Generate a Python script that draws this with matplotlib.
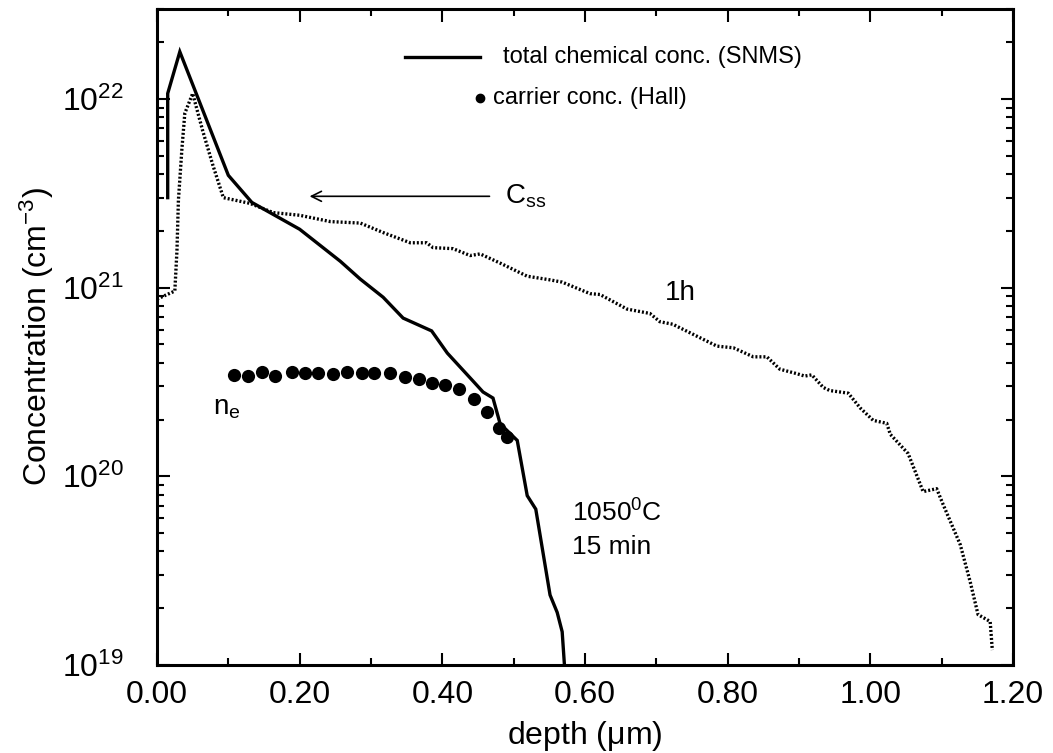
import math
import matplotlib
matplotlib.use("Agg")
import matplotlib.pyplot as plt
from matplotlib.ticker import FixedLocator, MultipleLocator, LogLocator, FuncFormatter, NullFormatter

plt.rcParams['font.family'] = ['Liberation Sans', 'DejaVu Sans']
plt.rcParams['mathtext.default'] = 'regular'

# total chemical concentration (SNMS), 1050 C 15 min
depth_15min = [0.015, 0.015, 0.032, 0.10, 0.133, 0.20, 0.257, 0.285, 0.317, 0.345,
               0.385, 0.407, 0.443, 0.457, 0.471, 0.481, 0.505, 0.519, 0.531,
               0.551, 0.561, 0.568, 0.572]
conc_15min = [3.0e21, 1.07e22, 1.78e22, 3.94e21, 2.83e21, 2.04e21, 1.38e21, 1.11e21,
              8.9e20, 6.9e20, 5.9e20, 4.5e20, 3.2e20, 2.8e20, 2.6e20, 1.9e20,
              1.55e20, 7.9e19, 6.7e19, 2.35e19, 1.9e19, 1.5e19, 9.0e18]

# total chemical concentration (SNMS), 1h
depth_1h = [0.0, 0.025, 0.028, 0.030, 0.035, 0.039, 0.050, 0.064, 0.078, 0.093,
            0.13, 0.163, 0.20, 0.243, 0.285, 0.317, 0.355, 0.378, 0.387, 0.415,
            0.439, 0.453, 0.481, 0.519, 0.551, 0.568, 0.607, 0.621, 0.659, 0.691,
            0.705, 0.723, 0.785, 0.808, 0.836, 0.855, 0.873, 0.897, 0.908, 0.918,
            0.934, 0.943, 0.969, 0.986, 1.004, 1.023, 1.028, 1.053, 1.074, 1.093,
            1.102, 1.126, 1.140, 1.151, 1.168, 1.171]
conc_1h = [8.7e20, 9.6e20, 1.58e21, 2.9e21, 5.5e21, 8.4e21, 1.07e22, 6.8e21, 4.5e21, 3.0e21,
           2.8e21, 2.5e21, 2.42e21, 2.24e21, 2.2e21, 1.96e21, 1.73e21, 1.73e21, 1.63e21, 1.61e21,
           1.48e21, 1.51e21, 1.35e21, 1.15e21, 1.1e21, 1.07e21, 9.3e20, 9.2e20, 7.7e20, 7.3e20,
           6.6e20, 6.4e20, 4.9e20, 4.8e20, 4.3e20, 4.3e20, 3.7e20, 3.5e20, 3.4e20, 3.45e20,
           2.96e20, 2.85e20, 2.76e20, 2.3e20, 1.98e20, 1.91e20, 1.67e20, 1.32e20, 8.3e19, 8.6e19,
           7.1e19, 4.35e19, 2.76e19, 1.85e19, 1.7e19, 1.2e19]

# carrier concentration (Hall)
depth_hall = [0.108, 0.127, 0.147, 0.166, 0.189, 0.208, 0.226, 0.247, 0.267, 0.287,
              0.304, 0.326, 0.347, 0.367, 0.385, 0.404, 0.423, 0.445, 0.462, 0.480, 0.490]
conc_hall = [3.44e20, 3.40e20, 3.57e20, 3.40e20, 3.59e20, 3.52e20, 3.52e20, 3.47e20, 3.59e20,
             3.52e20, 3.52e20, 3.52e20, 3.37e20, 3.27e20, 3.13e20, 3.04e20, 2.89e20, 2.56e20,
             2.19e20, 1.81e20, 1.61e20]

x_ticks = [0.0, 0.2, 0.4, 0.6, 0.8, 1.0, 1.2]
y_ticks = [1e19, 1e20, 1e21, 1e22]

fig = plt.figure(figsize=(10.53, 7.53), dpi=100)
ax = fig.add_axes([157 / 1053, 88 / 753, 856 / 1053, 656 / 753])

ax.plot(depth_15min, conc_15min, color='black', lw=2.4, solid_joinstyle='miter')
ax.plot(depth_1h, conc_1h, color='black', lw=2.4, linestyle=(0, (0.6, 0.6)))
ax.plot(depth_hall, conc_hall, 'o', color='black', ms=9.5, mew=0)

ax.set_yscale('log')
ax.set_xlim(0, 1.2)
ax.set_ylim(1e19, 3e22)

ax.xaxis.set_major_locator(FixedLocator(x_ticks))
ax.xaxis.set_minor_locator(MultipleLocator(0.1))
ax.xaxis.set_major_formatter(FuncFormatter(lambda v, p: f'{v:.2f}'))
ax.yaxis.set_major_locator(FixedLocator(y_ticks))
ax.yaxis.set_minor_locator(LogLocator(base=10, subs=range(2, 10)))
ax.yaxis.set_minor_formatter(NullFormatter())
ax.yaxis.set_major_formatter(FuncFormatter(lambda v, p: r'$10^{%d}$' % round(math.log10(v))))

ax.tick_params(which='both', direction='in', top=True, right=True, width=1.5)
ax.tick_params(which='major', length=9, labelsize=23)
ax.tick_params(axis='x', which='major', pad=11)
ax.tick_params(axis='y', which='major', pad=24)
ax.tick_params(which='minor', length=5)
for s in ax.spines.values():
    s.set_linewidth(2.2)

ax.set_xlabel(r'depth ($\mu$m)', fontsize=23, labelpad=6)
ax.set_ylabel(r'Concentration (cm$^{-3}$)', fontsize=23, labelpad=4)

# legend drawn by hand
ax.plot([0.290, 0.377], [0.927, 0.927], color='black', lw=2.4, transform=ax.transAxes)
ax.text(0.404, 0.927, 'total chemical conc. (SNMS)', transform=ax.transAxes,
        fontsize=17, va='center', ha='left')
ax.plot([0.377], [0.864], 'o', color='black', ms=6, transform=ax.transAxes)
ax.text(0.392, 0.864, 'carrier conc. (Hall)', transform=ax.transAxes,
        fontsize=17, va='center', ha='left')

# annotations
ax.annotate('', xy=(0.21, 3.05e21), xytext=(0.47, 3.05e21),
            arrowprops=dict(arrowstyle='->', color='black', lw=1.2, mutation_scale=18))
ax.text(0.488, 3.05e21, r'C$_{ss}$', fontsize=20, va='center', ha='left')
ax.text(0.733, 9.4e20, '1h', fontsize=20, va='center', ha='center')
ax.text(0.078, 2.3e20, r'n$_e$', fontsize=20, va='center', ha='left')
ax.text(0.582, 6.4e19, r'1050$^0$C', fontsize=19, va='center', ha='left')
ax.text(0.582, 4.2e19, '15 min', fontsize=19, va='center', ha='left')

fig.savefig('out.png', dpi=100)
